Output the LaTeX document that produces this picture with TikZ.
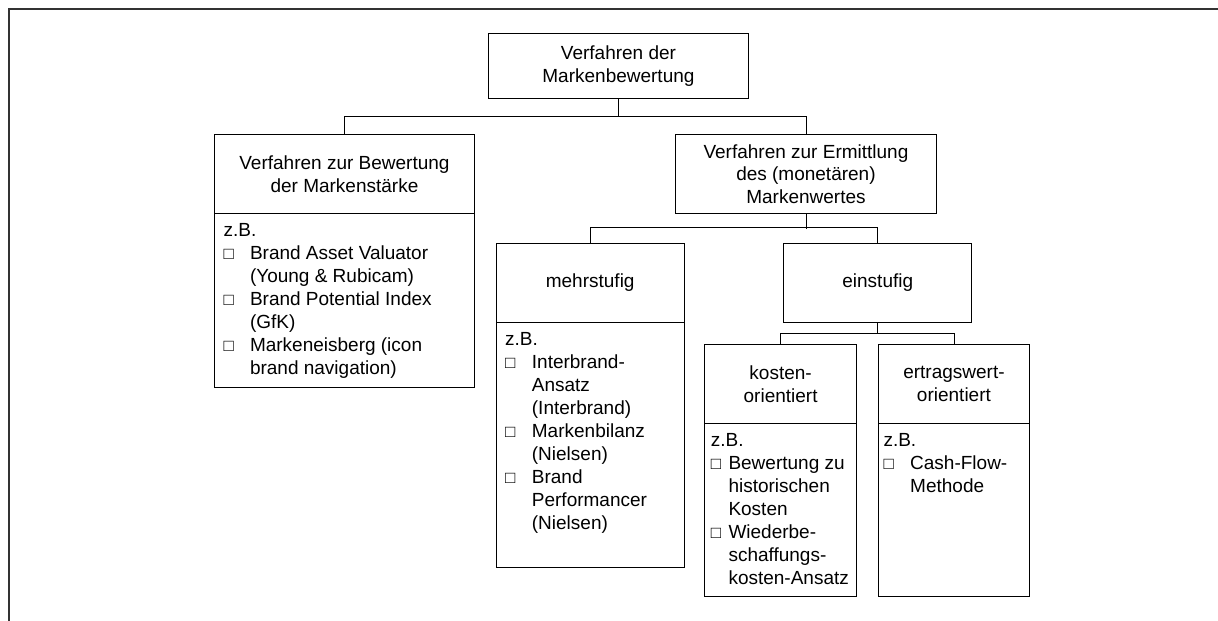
\documentclass[tikz,border=0pt]{standalone}
\usepackage{fontspec}
\setmainfont{Liberation Sans}
\newcommand\bul{{\fontsize{17}{17}\selectfont □}}
\begin{document}
\begin{tikzpicture}[x=1pt,y=-1pt,
  box/.style={draw, line width=0.9pt, inner sep=0pt, anchor=north west, align=center,
    font=\fontsize{19}{22.5}\selectfont},
  conn/.style={line width=0.9pt},
  frameline/.style={draw=black!80, line width=2pt},
  list/.style={anchor=north west, inner sep=0pt, font=\fontsize{19}{23}\selectfont}]
\useasboundingbox (0,0) rectangle (1218,621);
\draw[frameline] (8.5,621) -- (8.5,8.5) -- (1218,8.5);

% root
\node[box, minimum width=260pt, minimum height=65.5pt] (root) at (488,32.7) {Verfahren der\\Markenbewertung};

% left branch
\node[box, minimum width=260pt, minimum height=79pt] (lhead) at (214,134.3) {Verfahren zur Bewertung\\der Markenstärke};
\node[box, minimum width=260pt, minimum height=173.5pt] (lbody) at (214,213.3) {};
\node[list] (ltext) at (223.5,220.6) {\begin{tabular}{@{}p{26.3pt}@{}l@{}}
\multicolumn{2}{@{}l@{}}{z.B.}\\
\bul & Brand Asset Valuator\\
 & (Young \& Rubicam)\\
\bul & Brand Potential Index\\
 & (GfK)\\
\bul & Markeneisberg (icon\\
 & brand navigation)
\end{tabular}};

% right branch
\node[box, minimum width=261pt, minimum height=78.5pt] (erm) at (675,134.3) {Verfahren zur Ermittlung\\des (monetären)\\Markenwertes};

% mehrstufig
\node[box, minimum width=187.5pt, minimum height=79.3pt] (mhead) at (496,242.7) {mehrstufig};
\node[box, minimum width=187.5pt, minimum height=245.3pt] (mbody) at (496,322) {};
\node[list] (mtext) at (505,329.6) {\begin{tabular}{@{}p{26.7pt}@{}l@{}}
\multicolumn{2}{@{}l@{}}{z.B.}\\
\bul & Interbrand-\\
 & Ansatz\\
 & (Interbrand)\\
\bul & Markenbilanz\\
 & (Nielsen)\\
\bul & Brand\\
 & Performancer\\
 & (Nielsen)
\end{tabular}};

% einstufig
\node[box, minimum width=188pt, minimum height=79pt] (ehead) at (783.3,242.7) {einstufig};

% kosten
\node[box, minimum width=151.7pt, minimum height=79.3pt] (khead) at (704.3,344) {kosten-\\orientiert};
\node[box, minimum width=151.7pt, minimum height=172.7pt] (kbody) at (704.3,423.3) {};
\node[list] (ktext) at (710.7,429.9) {\begin{tabular}{@{}p{17.6pt}@{}l@{}}
\multicolumn{2}{@{}l@{}}{z.B.}\\
\bul & Bewertung zu\\
 & historischen\\
 & Kosten\\
\bul & Wiederbe-\\
 & schaffungs-\\
 & kosten-Ansatz
\end{tabular}};

% ertrag
\node[box, minimum width=151.6pt, minimum height=79.3pt] (thead) at (877.7,344) {ertragswert-\\orientiert};
\node[box, minimum width=151.6pt, minimum height=172.7pt] (tbody) at (877.7,423.3) {};
\node[list] (ttext) at (883.3,429.9) {\begin{tabular}{@{}p{26.7pt}@{}l@{}}
\multicolumn{2}{@{}l@{}}{z.B.}\\
\bul & Cash-Flow-\\
 & Methode
\end{tabular}};

% connectors
\draw[conn] (root.south) -- ++(0,18);
\draw[conn] (lhead.north) -- ++(0,-18) -| (erm.north);
\draw[conn] (erm.south) -- ++(0,15);
\draw[conn] (mhead.north) -- ++(0,-15) -| (ehead.north);
\draw[conn] (ehead.south) -- ++(0,11);
\draw[conn] (khead.north) -- ++(0,-11) -| (thead.north);
\end{tikzpicture}
\end{document}
